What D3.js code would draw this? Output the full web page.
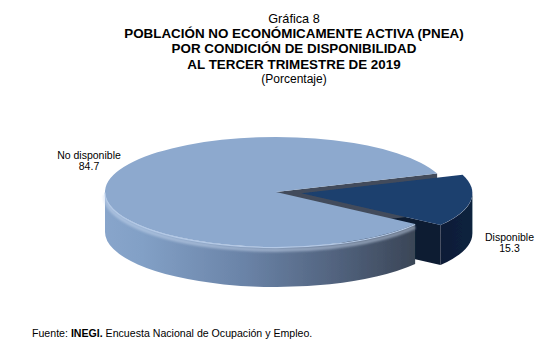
<!DOCTYPE html>
<html>
<head>
<meta charset="utf-8">
<script src="https://cdn.jsdelivr.net/npm/d3@7"></script>
<style>
  html, body { margin: 0; padding: 0; background: #ffffff; }
  svg { display: block; font-family: "Liberation Sans", Arial, sans-serif; }
</style>
</head>
<body>
<svg id="chart" width="556" height="348"></svg>
<script>
// Chart data
const categories = ["No disponible", "Disponible"];
const values = [84.7, 15.3];
const valueLabels = ["84.7", "15.3"];

const titleLines = [
  "Gráfica 8",
  "POBLACIÓN NO ECONÓMICAMENTE ACTIVA (PNEA)",
  "POR CONDICIÓN DE DISPONIBILIDAD",
  "AL TERCER TRIMESTRE DE 2019",
  "(Porcentaje)"
];
const sourceNote = { lead: "Fuente: ", org: "INEGI.", rest: " Encuesta Nacional de Ocupación y Empleo." };

const svg = d3.select("#chart");
const defs = svg.append("defs");

// ---- Title block ----
const titleX = 294;
const titleStyles = [
  { y: 22.5, size: 12.7, weight: "normal" },
  { y: 37.5, size: 13.4, weight: "bold" },
  { y: 53,   size: 13.4, weight: "bold" },
  { y: 68.5, size: 13.4, weight: "bold" },
  { y: 82.5, size: 12,   weight: "normal" }
];
svg.append("g").selectAll("text")
  .data(titleLines)
  .join("text")
  .attr("x", titleX)
  .attr("y", (d, i) => titleStyles[i].y)
  .attr("text-anchor", "middle")
  .attr("font-size", (d, i) => titleStyles[i].size)
  .attr("font-weight", (d, i) => titleStyles[i].weight)
  .attr("fill", "#000")
  .text(d => d);

// ---- 3D pie geometry ----
const cx = 276, cy = 192, rx = 171, ry = 55, depth = 40;
const explode = 0.15;
const TAU = Math.PI * 2;
const smallShare = values[1] / d3.sum(values);
// rotate so the small slice sits just below the right-hand side of the ellipse
const midSmall = (98 / 180) * Math.PI;
const start = midSmall + Math.PI * smallShare;

const arcs = d3.pie().sort(null).value(d => d)
  .startAngle(start).endAngle(start + TAU)(values);

const colors = {
  top:  ["#8DA9CE", "#1D3F6E"],
  wall: ["#424C5B", "#0B1B33"]
};

function pt(a, ox, oy, dz = 0) {
  return [cx + ox + rx * Math.sin(a), cy + oy - ry * Math.cos(a) + dz];
}
function topPath(a0, a1, ox, oy) {
  const p0 = pt(a0, ox, oy), p1 = pt(a1, ox, oy);
  const large = (a1 - a0) > Math.PI ? 1 : 0;
  return `M${cx + ox},${cy + oy}L${p0}A${rx},${ry} 0 ${large} 1 ${p1}Z`;
}
function sidePath(a0, a1, ox, oy) {
  const p0 = pt(a0, ox, oy), p1 = pt(a1, ox, oy);
  const q0 = pt(a0, ox, oy, depth), q1 = pt(a1, ox, oy, depth);
  const large = (a1 - a0) > Math.PI ? 1 : 0;
  return `M${p0}A${rx},${ry} 0 ${large} 1 ${p1}L${q1}A${rx},${ry} 0 ${large} 0 ${q0}Z`;
}
function rimPath(a0, a1, ox, oy, dz) {
  const p0 = pt(a0, ox, oy, dz), p1 = pt(a1, ox, oy, dz);
  const large = (a1 - a0) > Math.PI ? 1 : 0;
  return `M${p0}A${rx},${ry} 0 ${large} 1 ${p1}`;
}
function radialWall(a, ox, oy) {
  const p = pt(a, ox, oy), q = pt(a, ox, oy, depth);
  return `M${cx + ox},${cy + oy}L${p}L${q}L${cx + ox},${cy + oy + depth}Z`;
}
// part of [a0,a1] that faces the viewer (lower half of the ellipse)
function frontRange(a0, a1) {
  const ranges = [];
  for (let k = -1; k <= 2; k++) {
    const f0 = Math.PI / 2 + k * TAU, f1 = 3 * Math.PI / 2 + k * TAU;
    const s = Math.max(a0, f0), e = Math.min(a1, f1);
    if (e > s) ranges.push([s, e]);
  }
  return ranges;
}

const slices = arcs.map((d, i) => {
  const mid = (d.startAngle + d.endAngle) / 2;
  const k = i === 1 ? explode : 0;
  return {
    i, d,
    ox: k * rx * Math.sin(mid),
    oy: -k * ry * Math.cos(mid)
  };
});

// gradients for the outer walls
const gBig = defs.append("linearGradient").attr("id", "wallBig")
  .attr("gradientUnits", "userSpaceOnUse")
  .attr("x1", cx - rx).attr("x2", 416).attr("y1", 0).attr("y2", 0);
[[0, "#88A5CB"], [0.12, "#82A0C6"], [0.45, "#6A83A7"], [0.75, "#51627D"], [1, "#3A4556"]]
  .forEach(([o, c]) => gBig.append("stop").attr("offset", o).attr("stop-color", c));

const gSmall = defs.append("linearGradient").attr("id", "wallSmall")
  .attr("gradientUnits", "userSpaceOnUse")
  .attr("x1", 440).attr("x2", 478).attr("y1", 0).attr("y2", 0);
[[0, "#0C1D36"], [1, "#0F2240"]]
  .forEach(([o, c]) => gSmall.append("stop").attr("offset", o).attr("stop-color", c));

defs.append("filter").attr("id", "soft")
  .attr("x", "-10%").attr("y", "-50%").attr("width", "120%").attr("height", "200%")
  .append("feGaussianBlur").attr("stdDeviation", 1.2);
defs.append("filter").attr("id", "softer")
  .append("feGaussianBlur").attr("stdDeviation", 0.5);

const pie = svg.append("g").attr("filter", "url(#softer)");
const big = slices[0], small = slices[1];

// hidden-side walls visible through the gap
pie.append("path")
  .attr("d", radialWall(small.d.endAngle, small.ox, small.oy))
  .attr("fill", "#0A1A31");
pie.append("path")
  .attr("d", radialWall(big.d.endAngle, big.ox, big.oy))
  .attr("fill", colors.wall[0]);

// exploded slice
frontRange(small.d.startAngle, small.d.endAngle).forEach(([s, e]) => {
  pie.append("path").attr("d", sidePath(s, e, small.ox, small.oy))
    .attr("fill", "url(#wallSmall)");
});
pie.append("path")
  .attr("d", topPath(small.d.startAngle, small.d.endAngle, small.ox, small.oy))
  .attr("fill", colors.top[1]);

// main slice
frontRange(big.d.startAngle, big.d.endAngle).forEach(([s, e]) => {
  pie.append("path").attr("d", sidePath(s, e, big.ox, big.oy))
    .attr("fill", "url(#wallBig)");
  // soft bevel highlight just under the rim
  pie.append("path").attr("d", rimPath(s, e, big.ox, big.oy, 3))
    .attr("fill", "none").attr("stroke", "#C9DAF0").attr("stroke-opacity", 0.5)
    .attr("stroke-width", 4).attr("filter", "url(#soft)");
});
pie.append("path")
  .attr("d", topPath(big.d.startAngle, big.d.endAngle, big.ox, big.oy))
  .attr("fill", colors.top[0]);
frontRange(big.d.startAngle, big.d.endAngle).forEach(([s, e]) => {
  pie.append("path").attr("d", rimPath(s, e, big.ox, big.oy, 0.5))
    .attr("fill", "none").attr("stroke", "#B4C9E6").attr("stroke-width", 1.2);
});

// ---- Data labels ----
const labelPos = [
  { x: 89, y: 159 },
  { x: 509.5, y: 241 }
];
const labels = svg.append("g").attr("font-size", 10.5).attr("fill", "#000");
categories.forEach((c, i) => {
  const t = labels.append("text").attr("text-anchor", "middle")
    .attr("x", labelPos[i].x).attr("y", labelPos[i].y);
  t.append("tspan").attr("x", labelPos[i].x).text(c);
  t.append("tspan").attr("x", labelPos[i].x).attr("dy", 11.3).text(valueLabels[i]);
});

// ---- Source note ----
const note = svg.append("text").attr("x", 32).attr("y", 337)
  .attr("font-size", 10.6).attr("fill", "#000");
note.append("tspan").text(sourceNote.lead);
note.append("tspan").attr("font-weight", "bold").text(sourceNote.org);
note.append("tspan").text(sourceNote.rest);
</script>
</body>
</html>
